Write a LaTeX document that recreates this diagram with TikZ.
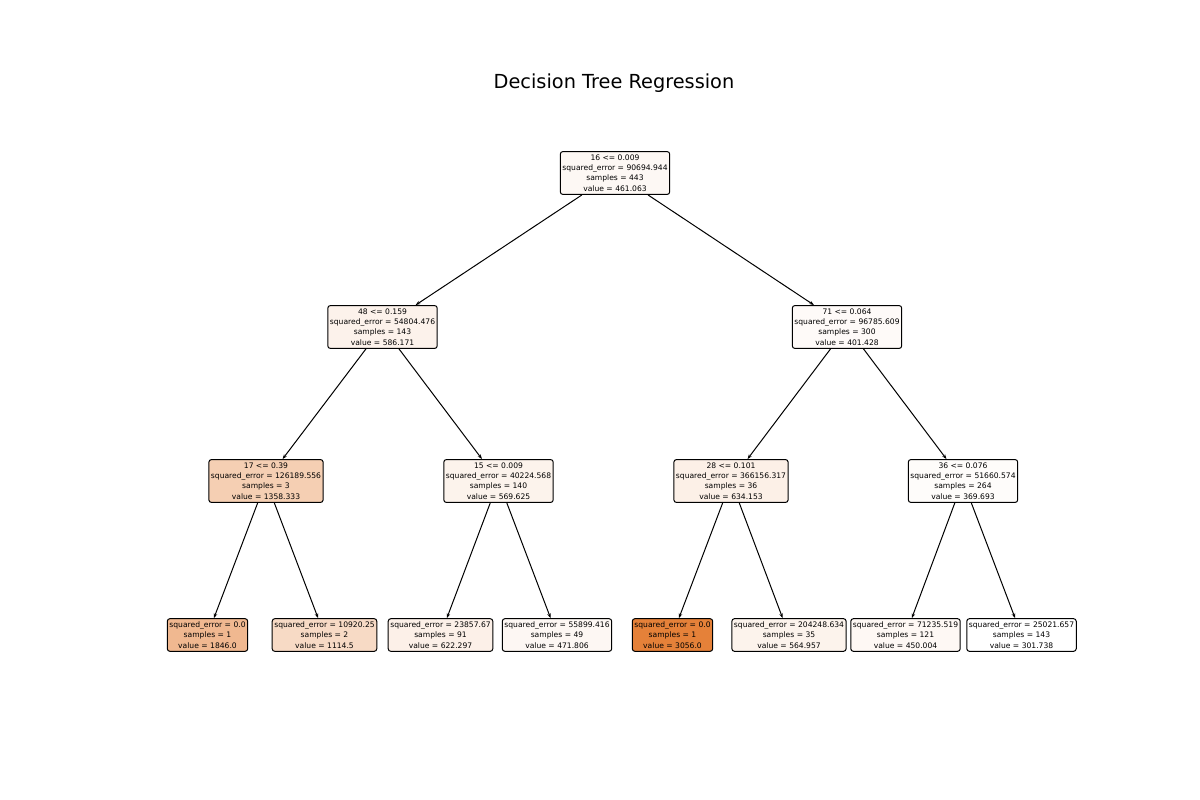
\documentclass[tikz,border=0pt]{standalone}
\usepackage{fontspec}
\setmainfont{DejaVu Sans}
\usetikzlibrary{arrows.meta}
\definecolor{treeorange}{RGB}{229,129,57}
\tikzset{every picture/.style={line width=0.75pt}}
\tikzset{
    treebox/.style={draw=black, rounded corners=2pt, align=center, inner xsep=1.6pt, inner ysep=2.3pt, font=\fontsize{5.7}{7.75}\selectfont},
    treeedge/.style={-{Stealth[length=3.6pt,width=2.6pt]}}
}

\begin{document}
\begin{tikzpicture}[x=0.75pt,y=0.75pt,yscale=-1,xscale=1]
    \useasboundingbox (0,0) rectangle (1200,800);
    
    % Title
    \node (title) at (614,83) {\fontsize{14.5}{17}\selectfont Decision Tree Regression};
    
    % Split Nodes
    \node [treebox, fill=treeorange!5.8!white] (n0) at (615,173) {16 <= 0.009\\squared\_error = 90694.944\\samples = 443\\value = 461.063};
    \node [treebox, fill=treeorange!10.3!white] (n1) at (382.5,327) {48 <= 0.159\\squared\_error = 54804.476\\samples = 143\\value = 586.171};
    \node [treebox, fill=treeorange!3.6!white] (n8) at (847,327) {71 <= 0.064\\squared\_error = 96785.609\\samples = 300\\value = 401.428};
    \node [treebox, fill=treeorange!38.4!white] (n2) at (266,481) {17 <= 0.39\\squared\_error = 126189.556\\samples = 3\\value = 1358.333};
    \node [treebox, fill=treeorange!9.7!white] (n5) at (498.5,481) {15 <= 0.009\\squared\_error = 40224.568\\samples = 140\\value = 569.625};
    \node [treebox, fill=treeorange!12.1!white] (n9) at (731,481) {28 <= 0.101\\squared\_error = 366156.317\\samples = 36\\value = 634.153};
    \node [treebox, fill=treeorange!2.5!white] (n12) at (963,481) {36 <= 0.076\\squared\_error = 51660.574\\samples = 264\\value = 369.693};
    
    % Leaf Nodes
    \node [treebox, fill=treeorange!56.1!white] (n3) at (207.5,635) {squared\_error = 0.0\\samples = 1\\value = 1846.0};
    \node [treebox, fill=treeorange!29.5!white] (n4) at (324.5,635) {squared\_error = 10920.25\\samples = 2\\value = 1114.5};
    \node [treebox, fill=treeorange!11.6!white] (n6) at (440.5,635) {squared\_error = 23857.67\\samples = 91\\value = 622.297};
    \node [treebox, fill=treeorange!6.2!white] (n7) at (557,635) {squared\_error = 55899.416\\samples = 49\\value = 471.806};
    \node [treebox, fill=treeorange] (n10) at (672.5,635) {squared\_error = 0.0\\samples = 1\\value = 3056.0};
    \node [treebox, fill=treeorange!9.6!white] (n11) at (789,635) {squared\_error = 204248.634\\samples = 35\\value = 564.957};
    \node [treebox, fill=treeorange!5.4!white] (n13) at (905.5,635) {squared\_error = 71235.519\\samples = 121\\value = 450.004};
    \node [treebox, fill=white] (n14) at (1021.5,635) {squared\_error = 25021.657\\samples = 143\\value = 301.738};
    
    % Edges
    \draw [treeedge] (n0) -- (n1);
    \draw [treeedge] (n0) -- (n8);
    \draw [treeedge] (n1) -- (n2);
    \draw [treeedge] (n1) -- (n5);
    \draw [treeedge] (n8) -- (n9);
    \draw [treeedge] (n8) -- (n12);
    \draw [treeedge] (n2) -- (n3);
    \draw [treeedge] (n2) -- (n4);
    \draw [treeedge] (n5) -- (n6);
    \draw [treeedge] (n5) -- (n7);
    \draw [treeedge] (n9) -- (n10);
    \draw [treeedge] (n9) -- (n11);
    \draw [treeedge] (n12) -- (n13);
    \draw [treeedge] (n12) -- (n14);
    
\end{tikzpicture}
\end{document}
